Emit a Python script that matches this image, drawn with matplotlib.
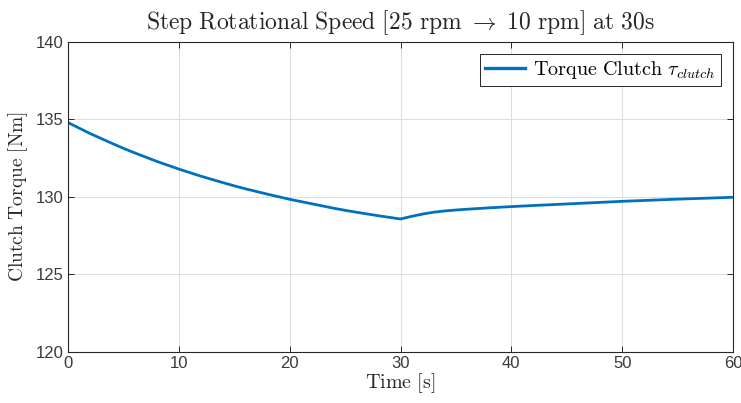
import matplotlib
matplotlib.use("Agg")
import matplotlib.pyplot as plt

# Clutch torque response to a rotational speed step at t = 30 s
time_s = [0, 2, 4, 5, 6, 8, 10, 12, 14, 15, 16, 18, 20, 22, 24, 25, 26, 28, 30,
          31, 32, 33, 34, 35, 36, 38, 40, 42, 45, 50, 55, 60]
torque_nm = [134.80, 134.09, 133.45, 133.14, 132.85, 132.30, 131.80, 131.34,
             130.92, 130.72, 130.53, 130.18, 129.85, 129.56, 129.27, 129.14,
             129.02, 128.79, 128.58,
             128.75, 128.90, 129.02, 129.10, 129.16, 129.21, 129.30, 129.38,
             129.45, 129.55, 129.72, 129.86, 129.98]

x_ticks = [0, 10, 20, 30, 40, 50, 60]
y_ticks = [120, 125, 130, 135, 140]

BLUE = "#0072BD"
DARK = "#262626"

plt.rcParams["mathtext.fontset"] = "cm"
plt.rcParams["font.family"] = ["Liberation Sans", "DejaVu Sans"]

fig = plt.figure(figsize=(7.41, 4.03), dpi=100)
ax = fig.add_axes([0.0918, 0.1266, 0.8974, 0.7692])

ax.plot(time_s, torque_nm, color=BLUE, lw=2.0, label=r"$\mathrm{Torque\ Clutch}\ \tau_{clutch}$")

ax.set_xlim(0, 60)
ax.set_ylim(120, 140)
ax.set_xticks(x_ticks)
ax.set_yticks(y_ticks)
ax.grid(True, color="#dcdcdc", lw=0.7)
ax.set_axisbelow(True)

ax.tick_params(direction="in", top=True, right=True, length=4, width=0.7,
               colors=DARK, labelsize=12, pad=3)
for lbl in ax.get_xticklabels() + ax.get_yticklabels():
    lbl.set_color("#3a3a3a")
for s in ax.spines.values():
    s.set_color(DARK)
    s.set_linewidth(0.8)

ax.set_title(r"$\mathrm{Step\ Rotational\ Speed\ [25\ rpm}\ \rightarrow\ \mathrm{10\ rpm]\ at\ 30s}$",
             fontsize=17, color=DARK, pad=9)
ax.set_xlabel(r"$\mathrm{Time\ [s]}$", fontsize=14.5, color=DARK, labelpad=0)
ax.set_ylabel(r"$\mathrm{Clutch\ Torque\ [Nm]}$", fontsize=14, color=DARK, labelpad=4)

leg = ax.legend(loc="upper right", fontsize=14.5, fancybox=False, framealpha=1,
                edgecolor=DARK, handlelength=2.0, borderaxespad=0.6,
                borderpad=0.25, handletextpad=0.4)
leg.get_frame().set_linewidth(0.7)
for h in leg.get_lines():
    h.set_linewidth(2.4)

fig.savefig("out.png", dpi=100)
